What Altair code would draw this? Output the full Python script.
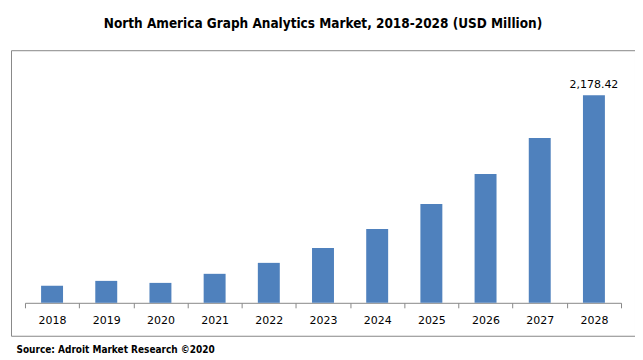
import altair as alt
import pandas as pd

years = ["2018", "2019", "2020", "2021", "2022", "2023", "2024", "2025", "2026", "2027", "2028"]
values = [178, 230, 209, 304, 419, 576, 775, 1037, 1351, 1728, 2178.42]
title_text = "North America Graph Analytics Market, 2018-2028 (USD Million)"
source_text = "Source: Adroit Market Research ©2020"
label_year = "2028"

df = pd.DataFrame({"year": years, "value": values})

narrow = "DejaVu Sans Condensed, Liberation Sans"
label_font = "DejaVu Sans"

x = alt.X(
    "year:N",
    sort=years,
    scale=alt.Scale(range=[14, 611], paddingInner=0, paddingOuter=0),
    axis=alt.Axis(
        title=source_text,
        offset=-33,
        tickBand="extent",
        domainColor="#888888",
        tickColor="#888888",
        tickSize=5,
        labelAngle=0,
        labelFont=label_font,
        labelFontSize=11,
        labelColor="#000000",
        labelPadding=7,
        titleX=5,
        titleY=47,
        titleAlign="left",
        titleAnchor="start",
        titleBaseline="middle",
        titleFont=narrow,
        titleFontSize=10,
        titleFontWeight="bold",
        titleColor="#000000",
    ),
)
y = alt.Y(
    "value:Q",
    scale=alt.Scale(domain=[0, max(values)], range=[253, 45], nice=False, zero=True),
    axis=None,
)

bars = alt.Chart(df).mark_bar(color="#4F81BD", width=alt.RelativeBandSize(0.405)).encode(x=x, y=y)
label = (
    alt.Chart(df)
    .transform_filter(alt.datum.year == label_year)
    .mark_text(baseline="bottom", dy=-5, font=label_font, fontSize=11, color="#000000")
    .encode(x=x, y=y, text=alt.Text("value:Q", format=",.2f"))
)

chart = (
    alt.layer(bars, label)
    .properties(
        width=625,
        height=286,
        autosize="none",
        padding={"left": 3, "top": 42, "right": 0, "bottom": 20},
        title=alt.Title(
            title_text,
            font=narrow,
            fontSize=13.5,
            fontWeight="bold",
            anchor="middle",
            offset=20,
            color="#000000",
        ),
    )
    .configure_view(stroke="#888888", strokeWidth=1)
)

chart.save("out.html", embed_options={"renderer": "svg", "actions": False})
